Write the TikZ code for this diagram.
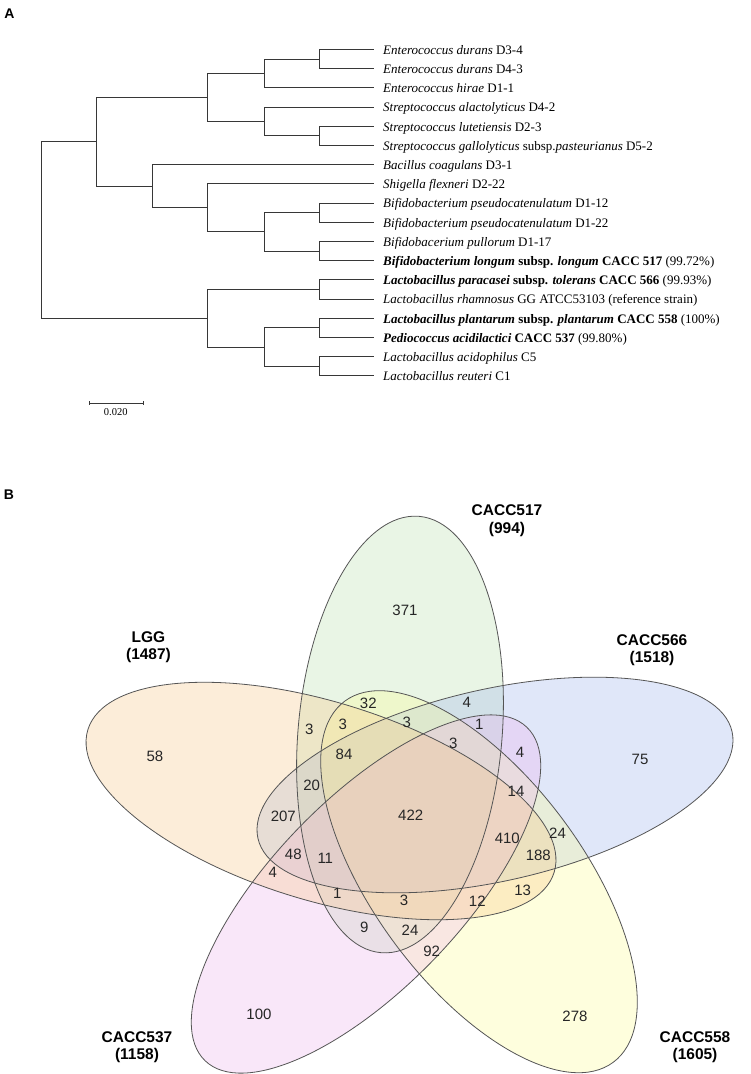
\documentclass[tikz,border=0pt]{standalone}
\usepackage{fontspec}
\setmainfont{Liberation Serif}
\newfontfamily\arial{Liberation Sans}
\usetikzlibrary{positioning}

\definecolor{c517}{RGB}{185,225,172}
\definecolor{c566}{RGB}{155,178,238}
\definecolor{c558}{RGB}{252,252,145}
\definecolor{c537}{RGB}{238,178,238}
\definecolor{cLGG}{RGB}{248,198,132}
\definecolor{rimgray}{RGB}{85,85,85}
\definecolor{branchgray}{RGB}{55,55,55}

\tikzset{
  taxon/.style={anchor=west, inner xsep=9pt, inner ysep=0pt, text height=13pt, text depth=3pt, font=\fontsize{13}{15}\selectfont},
  limb/.style={draw=branchgray, line width=0.8pt},
  petal/.style={fill opacity=0.3},
  outline/.style={draw=rimgray, line width=0.8pt},
  count/.style={font=\arial\fontsize{15}{18}\selectfont, inner sep=0pt, text=black!85},
  setname/.style={font=\arial\bfseries\fontsize{15.5}{17.6}\selectfont, align=center, inner sep=0pt},
  panel/.style={font=\arial\bfseries\fontsize{14}{16}\selectfont, inner sep=0pt},
}

\begin{document}
\begin{tikzpicture}[x=1pt, y=-1pt]
\useasboundingbox (0,0) rectangle (751,1074);
\fill[white] (0,0) rectangle (751,1074);

% panel A: tree
\node[panel] (pa) at (9.5,13.3) {A};

\node[taxon] (t1) at (374,49.3) {\textit{Enterococcus durans} D3-4};
\node[taxon] (t2) at (374,68.5) {\textit{Enterococcus durans} D4-3};
\node[taxon] (t3) at (374,87.7) {\textit{Enterococcus hirae} D1-1};
\node[taxon] (t4) at (374,106.9) {\textit{Streptococcus alactolyticus} D4-2};
\node[taxon] (t5) at (374,126.1) {\textit{Streptococcus lutetiensis} D2-3};
\node[taxon] (t6) at (374,145.3) {\textit{Streptococcus gallolyticus} subsp.\textit{pasteurianus} D5-2};
\node[taxon] (t7) at (374,164.5) {\textit{Bacillus coagulans} D3-1};
\node[taxon] (t8) at (374,183.7) {\textit{Shigella flexneri} D2-22};
\node[taxon] (t9) at (374,202.9) {\textit{Bifidobacterium pseudocatenulatum} D1-12};
\node[taxon] (t10) at (374,222.1) {\textit{Bifidobacterium pseudocatenulatum} D1-22};
\node[taxon] (t11) at (374,241.3) {\textit{Bifidobacerium pullorum} D1-17};
\node[taxon] (t12) at (374,260.5) {\textbf{\textit{Bifidobacterium longum} subsp. \textit{longum} CACC 517} (99.72\%)};
\node[taxon] (t13) at (374,279.7) {\textbf{\textit{Lactobacillus paracasei} subsp. \textit{tolerans} CACC 566} (99.93\%)};
\node[taxon] (t14) at (374,298.9) {\textit{Lactobacillus rhamnosus} GG ATCC53103 (reference strain)};
\node[taxon] (t15) at (374,318.1) {\textbf{\textit{Lactobacillus plantarum} subsp. \textit{plantarum} CACC 558} (100\%)};
\node[taxon] (t16) at (374,337.3) {\textbf{\textit{Pediococcus acidilactici} CACC 537} (99.80\%)};
\node[taxon] (t17) at (374,356.5) {\textit{Lactobacillus acidophilus} C5};
\node[taxon] (t18) at (374,375.7) {\textit{Lactobacillus reuteri} C1};

\coordinate (durans) at (319,58.9);
\coordinate (entero) at (264,73.3);
\coordinate (lutgal) at (319,135.7);
\coordinate (strep) at (264,121.3);
\coordinate (cocci) at (207.6,97.3);
\coordinate (pseudo) at (319,212.5);
\coordinate (bifpl) at (319,250.9);
\coordinate (bifido) at (264,231.7);
\coordinate (shibif) at (207.6,207.7);
\coordinate (bacgrp) at (152.4,186.1);
\coordinate (upper) at (96.8,141.7);
\coordinate (parrha) at (319,289.3);
\coordinate (plaped) at (319,327.7);
\coordinate (acireu) at (319,366.1);
\coordinate (lacto) at (264,346.9);
\coordinate (lower) at (207.6,318.1);
\coordinate (root) at (41.8,229.9);

\draw[limb] (durans) |- (t1);
\draw[limb] (durans) |- (t2);
\draw[limb] (entero) |- (durans);
\draw[limb] (entero) |- (t3);
\draw[limb] (lutgal) |- (t5);
\draw[limb] (lutgal) |- (t6);
\draw[limb] (strep) |- (t4);
\draw[limb] (strep) |- (lutgal);
\draw[limb] (cocci) |- (entero);
\draw[limb] (cocci) |- (strep);
\draw[limb] (pseudo) |- (t9);
\draw[limb] (pseudo) |- (t10);
\draw[limb] (bifpl) |- (t11);
\draw[limb] (bifpl) |- (t12);
\draw[limb] (bifido) |- (pseudo);
\draw[limb] (bifido) |- (bifpl);
\draw[limb] (shibif) |- (t8);
\draw[limb] (shibif) |- (bifido);
\draw[limb] (bacgrp) |- (t7);
\draw[limb] (bacgrp) |- (shibif);
\draw[limb] (upper) |- (cocci);
\draw[limb] (upper) |- (bacgrp);
\draw[limb] (parrha) |- (t13);
\draw[limb] (parrha) |- (t14);
\draw[limb] (plaped) |- (t15);
\draw[limb] (plaped) |- (t16);
\draw[limb] (acireu) |- (t17);
\draw[limb] (acireu) |- (t18);
\draw[limb] (lacto) |- (plaped);
\draw[limb] (lacto) |- (acireu);
\draw[limb] (lower) |- (parrha);
\draw[limb] (lower) |- (lacto);
\draw[limb] (root) |- (upper);
\draw[limb] (root) |- (lower);

% scale bar
\coordinate (sb1) at (89.4,403.3);
\coordinate (sb2) at (143.7,403.3);
\draw[limb, line width=0.6pt] (sb1) -- (sb2);
\draw[limb, line width=0.6pt] ([yshift=2pt]sb1) -- ([yshift=-2pt]sb1);
\draw[limb, line width=0.6pt] ([yshift=2pt]sb2) -- ([yshift=-2pt]sb2);
\node[font=\fontsize{10.5}{12}\selectfont, inner sep=0pt] (sbl) at (115.7,412.3) {0.020};

% panel B: venn
\node[panel] (pb) at (9,495) {B};

\fill[petal, fill=c517, rotate around={85:(400,734.5)}] (400,734.5) ellipse [x radius=219pt, y radius=102pt];
\fill[petal, fill=c566, rotate around={12.7:(495,785)}] (495,785) ellipse [x radius=243pt, y radius=96pt];
\fill[petal, fill=c558, rotate around={-53.35:(479,881.7)}] (479,881.7) ellipse [x radius=225pt, y radius=104.4pt];
\fill[petal, fill=c537, rotate around={46:(366,894)}] (366,894) ellipse [x radius=231.7pt, y radius=94.3pt];
\fill[petal, fill=cLGG, rotate around={-17:(321,801)}] (321,801) ellipse [x radius=243.8pt, y radius=99.3pt];

\draw[outline, rotate around={85:(400,734.5)}] (400,734.5) ellipse [x radius=219pt, y radius=102pt];
\draw[outline, rotate around={12.7:(495,785)}] (495,785) ellipse [x radius=243pt, y radius=96pt];
\draw[outline, rotate around={-53.35:(479,881.7)}] (479,881.7) ellipse [x radius=225pt, y radius=104.4pt];
\draw[outline, rotate around={46:(366,894)}] (366,894) ellipse [x radius=231.7pt, y radius=94.3pt];
\draw[outline, rotate around={-17:(321,801)}] (321,801) ellipse [x radius=243.8pt, y radius=99.3pt];

\node[setname] (s517) at (507,520.5) {CACC517\\(994)};
\node[setname] (sLGG) at (148.5,647.2) {LGG\\(1487)};
\node[setname] (s566) at (652,650) {CACC566\\(1518)};
\node[setname] (s537) at (137,1047) {CACC537\\(1158)};
\node[setname] (s558) at (695,1047) {CACC558\\(1605)};

\node[count] (v371) at (405,610.5) {371};
\node[count] (v58) at (155,756.7) {58};
\node[count] (v75) at (640,759.5) {75};
\node[count] (v32) at (368.3,703.3) {32};
\node[count] (v4a) at (466.7,702.7) {4};
\node[count] (v3a) at (309.3,729.3) {3};
\node[count] (v3b) at (342.7,724.3) {3};
\node[count] (v3c) at (406.7,722.7) {3};
\node[count] (v1a) at (479.3,724.3) {1};
\node[count] (v3d) at (453.3,743.3) {3};
\node[count] (v4b) at (520,752.7) {4};
\node[count] (v84) at (344,754) {84};
\node[count] (v20) at (311.7,785) {20};
\node[count] (v14) at (516,791) {14};
\node[count] (v207) at (283.3,816.7) {207};
\node[count] (v422) at (410.7,815) {422};
\node[count] (v410) at (507.3,838.3) {410};
\node[count] (v24a) at (557.5,833.3) {24};
\node[count] (v188) at (538.3,855.7) {188};
\node[count] (v48) at (293.3,854) {48};
\node[count] (v11) at (325.3,858.3) {11};
\node[count] (v4c) at (272.7,872.7) {4};
\node[count] (v1b) at (337.3,893.3) {1};
\node[count] (v3e) at (404,900) {3};
\node[count] (v12) at (477.3,901.7) {12};
\node[count] (v13) at (522.7,890.7) {13};
\node[count] (v9) at (364.3,927.7) {9};
\node[count] (v24b) at (410,930) {24};
\node[count] (v92) at (431.7,951.7) {92};
\node[count] (v100) at (259,1014) {100};
\node[count] (v278) at (575,1016) {278};
\end{tikzpicture}
\end{document}
